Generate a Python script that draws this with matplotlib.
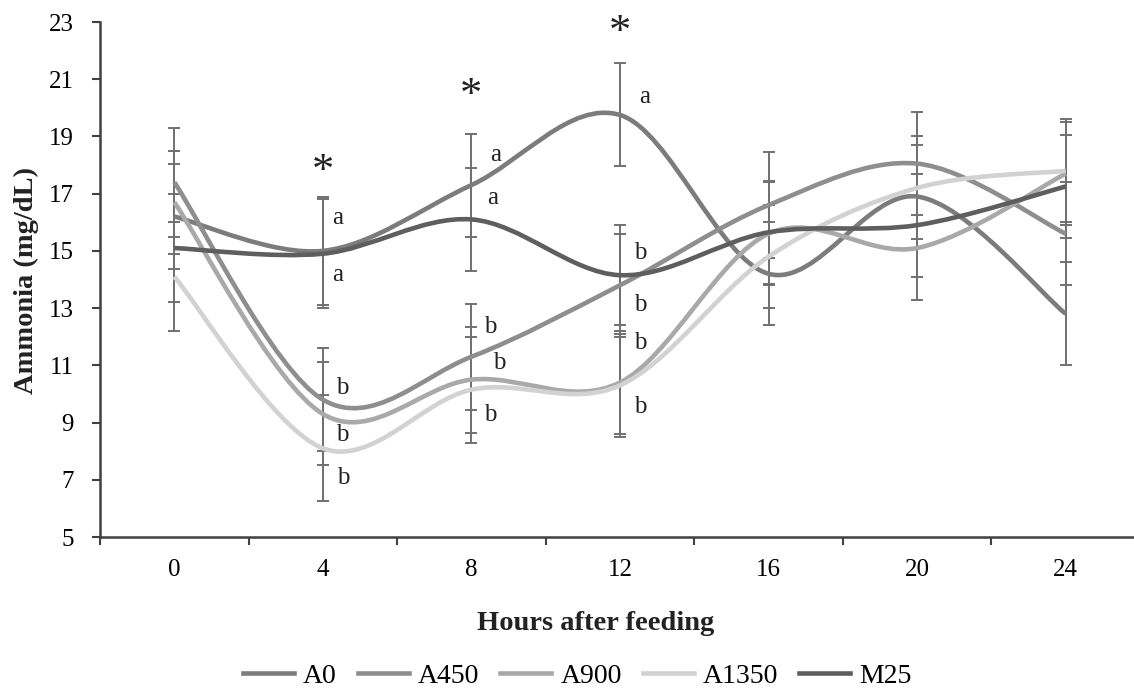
import numpy as np
import matplotlib
matplotlib.use("Agg")
import matplotlib.pyplot as plt
from matplotlib.path import Path
from matplotlib.patches import PathPatch
from matplotlib.lines import Line2D

plt.rcParams["font.family"] = ["Liberation Serif", "DejaVu Serif"]

# hours after feeding
hours = [0, 4, 8, 12, 16, 20, 24]

# ammonia means (mg/dL) per treatment
a0 = [16.2, 15.0, 17.3, 19.75, 14.2, 16.9, 12.8]
a450 = [17.4, 9.8, 11.3, 13.8, 16.6, 18.05, 15.6]
a900 = [16.7, 9.3, 10.5, 10.4, 15.6, 15.1, 17.7]
a1350 = [14.1, 8.1, 10.15, 10.3, 14.8, 17.2, 17.8]
m25 = [15.1, 14.9, 16.1, 14.15, 15.65, 15.9, 17.25]

# error bar half widths
err_a0 = [1.85, 1.9, 1.8, 1.8, 1.8, 1.8, 1.8]
err_a450 = [1.9, 1.8, 1.85, 1.8, 1.85, 1.8, 1.8]
err_a900 = [1.8, 1.8, 1.85, 1.8, 1.8, 1.8, 1.8]
err_a1350 = [1.9, 1.85, 1.85, 1.8, 1.8, 1.8, 1.8]
err_m25 = [1.9, 1.9, 1.8, 1.75, 1.8, 1.8, 1.8]

series = [
    ("A0", a0, err_a0, "#7c7c7c"),
    ("A450", a450, err_a450, "#8e8e8e"),
    ("A900", a900, err_a900, "#a9a9a9"),
    ("A1350", a1350, err_a1350, "#d2d2d2"),
    ("M25", m25, err_m25, "#5e5e5e"),
]

# significance letters: (hour, y, text)
letters = [
    (4.41, 16.15, "a"), (4.41, 14.16, "a"),
    (4.52, 10.21, "b"), (4.52, 8.57, "b"), (4.55, 7.06, "b"),
    (8.66, 18.35, "a"), (8.58, 16.85, "a"),
    (8.5, 12.34, "b"), (8.75, 11.08, "b"), (8.5, 9.26, "b"),
    (12.65, 20.38, "a"),
    (12.54, 14.93, "b"), (12.54, 13.11, "b"), (12.54, 11.78, "b"), (12.54, 9.54, "b"),
]
stars = [(4, 17.75), (8, 20.42), (12, 22.6)]


def smooth_path(x, y):
    # excel-like smoothed line: cubic bezier through every point
    p = np.column_stack([x, y]).astype(float)
    n = len(p)
    verts = [p[0]]
    codes = [Path.MOVETO]
    for i in range(n - 1):
        prev = p[max(i - 1, 0)]
        nxt = p[min(i + 2, n - 1)]
        c1 = p[i] + (p[i + 1] - prev) / 6
        c2 = p[i + 1] - (nxt - p[i]) / 6
        verts += [c1, c2, p[i + 1]]
        codes += [Path.CURVE4] * 3
    return Path(verts, codes)


fig = plt.figure(figsize=(11.34, 6.91), dpi=100)
ax = fig.add_axes([100 / 1134, 154 / 691, 1040 / 1134, 515 / 691])

handles = []
for name, vals, err, col in series:
    ax.errorbar(hours, vals, yerr=err, fmt="none", ecolor="#707070",
                elinewidth=1.4, capsize=4.5, capthick=1.4, zorder=2)
    ax.add_patch(PathPatch(smooth_path(hours, vals), fill=False,
                           edgecolor=col, lw=3.3, zorder=3))
    handles.append(Line2D([], [], color=col, lw=3.3, label=name))

for hx, hy, t in letters:
    ax.text(hx, hy, t, ha="center", va="center", fontsize=18, color="#222222")
for hx, hy in stars:
    ax.text(hx, hy, "*", ha="center", va="center", fontsize=32, color="#222222")

ax.set_xlim(-2, 26)
ax.set_ylim(5, 23)
ax.set_xticks(hours)
ax.set_xticks(np.arange(-2, 27, 4), minor=True)
ax.set_yticks(np.arange(5, 24, 2))
ax.tick_params(axis="x", which="major", length=0, pad=16, labelsize=18)
ax.tick_params(axis="x", which="minor", length=6, width=1.5, direction="out",
               color="#404040")
ax.tick_params(axis="y", length=6, width=1.5, pad=13, labelsize=18,
               color="#404040")

for s in ["top", "right"]:
    ax.spines[s].set_visible(False)
for s in ["left", "bottom"]:
    ax.spines[s].set_color("#404040")
    ax.spines[s].set_linewidth(1.8)

fig.text(596 / 1134, 1 - 623 / 691, "Hours after feeding", ha="center",
         va="center", fontsize=20.5, fontweight="bold", color="#222222")
fig.text(26 / 1134, 1 - 281 / 691, "Ammonia (mg/dL)", ha="center",
         va="center", rotation=90, fontsize=20.5, fontweight="bold",
         color="#222222")

fig.legend(handles=handles, loc="center", bbox_to_anchor=(0.509, 1 - 676 / 691),
           ncol=5, frameon=False, fontsize=20, handlelength=1.85,
           handletextpad=0.32, columnspacing=0.75, borderpad=0)

fig.savefig("out.png", dpi=100)
